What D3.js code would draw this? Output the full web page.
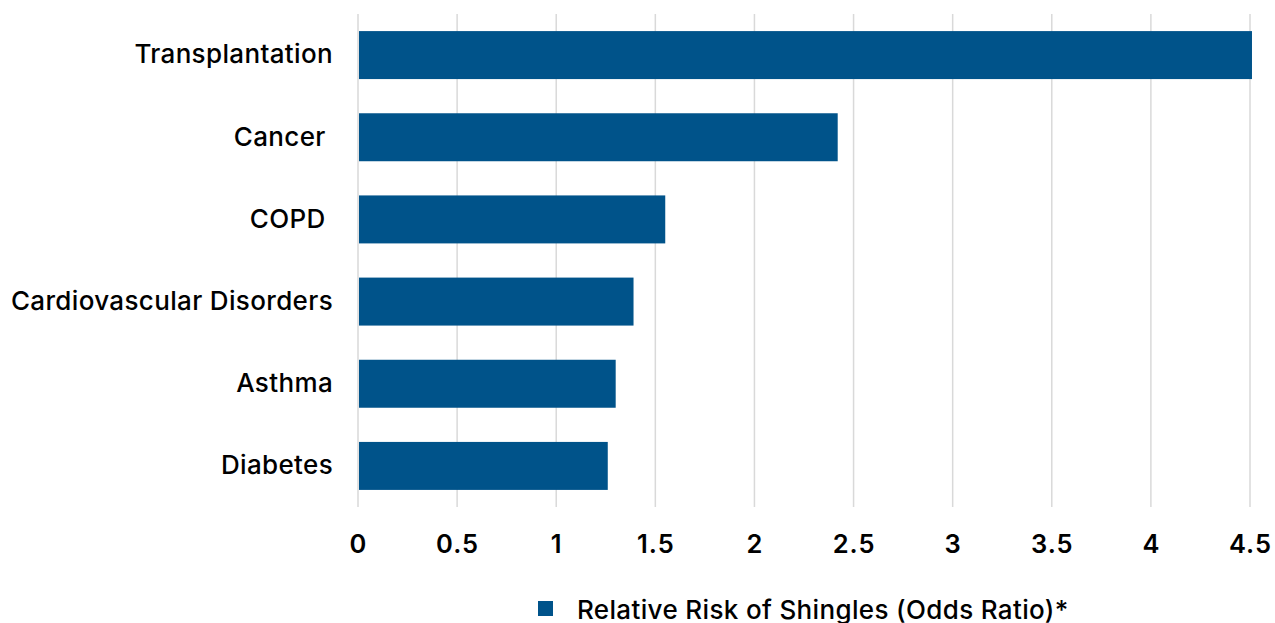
<!DOCTYPE html>
<html>
<head>
<meta charset="utf-8">
<script src="https://cdn.jsdelivr.net/npm/d3@7"></script>
<style>
  html, body { margin: 0; padding: 0; background: #fff; }
  svg { display: block; font-family: Inter, "Noto Sans", sans-serif; }
</style>
</head>
<body>
<svg id="chart" width="1275" height="623"></svg>
<script>
// Relative risk of shingles by underlying condition
const categories = ["Transplantation", "Cancer ", "COPD ", "Cardiovascular Disorders", "Asthma", "Diabetes"];
const oddsRatios = [4.51, 2.42, 1.55, 1.39, 1.30, 1.26];
const tickValues = [0, 0.5, 1, 1.5, 2, 2.5, 3, 3.5, 4, 4.5];
const tickLabels = ["0", "0.5", "1", "1.5", "2", "2.5", "3", "3.5", "4", "4.5"];
const seriesName = "Relative Risk of Shingles (Odds Ratio)*";

const barColor = "#00538a";
const gridColor = "#d9d9d9";

const svg = d3.select("#chart");
const plot = { left: 358, right: 1250, top: 14, bottom: 507 };

const x = d3.scaleLinear().domain([0, 4.5]).range([plot.left, plot.right]);
const y = d3.scaleBand().domain(categories).range([plot.top, plot.bottom]).paddingInner(0.416).paddingOuter(0.208);

// vertical gridlines
svg.append("g")
  .selectAll("line")
  .data(tickValues)
  .join("line")
  .attr("x1", d => x(d)).attr("x2", d => x(d))
  .attr("y1", plot.top).attr("y2", plot.bottom)
  .attr("stroke", gridColor).attr("stroke-width", 1.5);

// bars
svg.append("g")
  .selectAll("rect")
  .data(categories.map((c, i) => ({ c, v: oddsRatios[i] })))
  .join("rect")
  .attr("x", x(0) + 1)
  .attr("y", d => y(d.c))
  .attr("width", d => x(d.v) - x(0) - 1)
  .attr("height", y.bandwidth())
  .attr("fill", barColor);

// category axis
const yAxis = svg.append("g")
  .attr("transform", `translate(${plot.left - 25},0)`)
  .call(d3.axisLeft(y).tickSize(0).tickPadding(0));
yAxis.select(".domain").remove();
yAxis.selectAll("text")
  .attr("fill", "#000")
  .attr("font-size", 26)
  .attr("font-weight", 500)
  .attr("letter-spacing", 0.35)
  .attr("font-family", "Inter, sans-serif")
  .style("white-space", "pre");

// value axis
const xAxis = svg.append("g")
  .attr("transform", `translate(0,${plot.bottom + 28})`)
  .call(d3.axisBottom(x).tickValues(tickValues).tickFormat((d, i) => tickLabels[i]).tickSize(0).tickPadding(0));
xAxis.select(".domain").remove();
xAxis.selectAll("text")
  .attr("fill", "#000")
  .attr("font-size", 25.5)
  .attr("font-weight", 600)
  .attr("letter-spacing", 1)
  .attr("font-family", "Inter, sans-serif");

// legend
const legend = svg.append("g").attr("transform", "translate(538,601)");
legend.append("rect").attr("width", 15).attr("height", 15).attr("fill", barColor);
legend.append("text")
  .attr("x", 39).attr("y", 8)
  .attr("dominant-baseline", "central")
  .attr("font-size", 26)
  .attr("font-weight", 500)
  .attr("letter-spacing", 0.35)
  .attr("fill", "#000")
  .text(seriesName);
</script>
</body>
</html>
